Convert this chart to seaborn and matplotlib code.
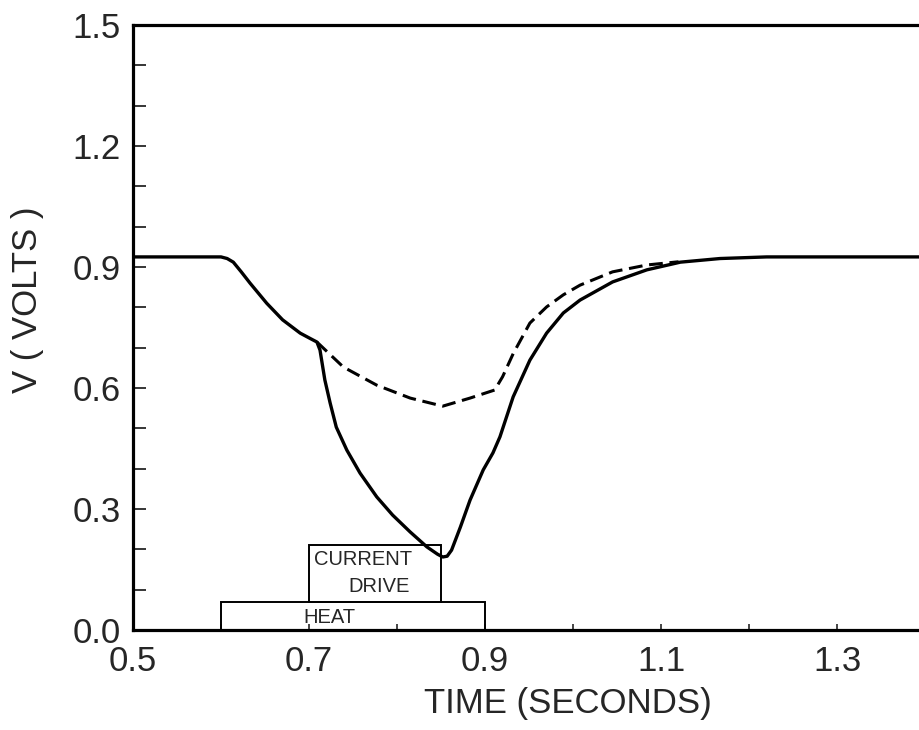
import numpy as np
import pandas as pd
import matplotlib
matplotlib.use("Agg")
import matplotlib.pyplot as plt
import seaborn as sns
from matplotlib.patches import Rectangle
from matplotlib.ticker import MultipleLocator

# ---- data ----
solid_t = [0.50, 0.60, 0.607, 0.614, 0.623, 0.633, 0.652, 0.670, 0.690, 0.702,
           0.709, 0.7125, 0.718, 0.724, 0.731, 0.743, 0.758, 0.777, 0.795,
           0.815, 0.834, 0.846, 0.852, 0.857, 0.862, 0.872, 0.883, 0.898,
           0.909, 0.917, 0.932, 0.951, 0.970, 0.989, 1.008, 1.045, 1.084,
           1.122, 1.167, 1.22, 1.50]
solid_v = [0.925, 0.925, 0.921, 0.912, 0.888, 0.860, 0.810, 0.769, 0.736, 0.722,
           0.714, 0.694, 0.620, 0.563, 0.503, 0.446, 0.389, 0.330, 0.285,
           0.243, 0.206, 0.188, 0.181, 0.183, 0.198, 0.255, 0.322, 0.397,
           0.439, 0.479, 0.578, 0.669, 0.736, 0.786, 0.818, 0.863, 0.893,
           0.912, 0.921, 0.925, 0.925]

dash_t = [0.709, 0.739, 0.777, 0.815, 0.852, 0.883, 0.911, 0.920, 0.932, 0.951,
          0.970, 0.989, 1.008, 1.045, 1.084, 1.120]
dash_v = [0.714, 0.652, 0.607, 0.575, 0.555, 0.575, 0.595, 0.628, 0.685, 0.761,
          0.801, 0.831, 0.855, 0.888, 0.905, 0.913]

box_start = [0.60, 0.70]
box_end = [0.90, 0.85]
box_low = [0.0, 0.07]
box_high = [0.07, 0.21]

box_texts = ["HEAT", "CURRENT", "DRIVE"]
text_x = [0.723, 0.762, 0.780]
text_y = [0.032, 0.176, 0.107]

x_ticks_major = [0.5, 0.7, 0.9, 1.1, 1.3]
y_ticks_major = [0.0, 0.3, 0.6, 0.9, 1.2, 1.5]

# ---- plot ----
sns.set_theme(style="ticks")
plt.rcParams["font.family"] = ["Liberation Sans", "DejaVu Sans"]

fig = plt.figure(figsize=(9.2, 7.3), dpi=100)
ax = fig.add_axes([133 / 920, 100 / 730, 880 / 920, 605 / 730])

df_s = pd.DataFrame({"t": solid_t, "v": solid_v})
df_d = pd.DataFrame({"t": dash_t, "v": dash_v})
sns.lineplot(data=df_s, x="t", y="v", ax=ax, color="black", lw=2.4,
             estimator=None, sort=False)
sns.lineplot(data=df_d, x="t", y="v", ax=ax, color="black", lw=2.2,
             estimator=None, sort=False)
ax.lines[-1].set_dashes((4.5, 2.2))
for ln in ax.lines:
    ln.set_solid_joinstyle("round")
    ln.set_dash_joinstyle("round")

for a, b, lo, hi in zip(box_start, box_end, box_low, box_high):
    ax.add_patch(Rectangle((a, lo), b - a, hi - lo, fill=False, ec="black",
                           lw=1.4, zorder=1))
for lab, tx, ty in zip(box_texts, text_x, text_y):
    ax.text(tx, ty, lab, ha="center", va="center", fontsize=14.5)

ax.set_xlim(0.5, 1.5)
ax.set_ylim(0.0, 1.5)
ax.set_xticks(x_ticks_major)
ax.set_xticklabels([f"{v:.1f}" for v in x_ticks_major])
ax.set_yticks(y_ticks_major)
ax.set_yticklabels([f"{v:.1f}" for v in y_ticks_major])
ax.xaxis.set_minor_locator(MultipleLocator(0.1))
ax.yaxis.set_minor_locator(MultipleLocator(0.1))
ax.tick_params(axis="y", which="both", direction="in", length=9, width=1.3,
               labelsize=25, pad=9, right=False)
ax.tick_params(axis="x", which="both", direction="in", length=4, width=1.2,
               labelsize=25, pad=11, top=False)
for s in ax.spines.values():
    s.set_linewidth(2.3)
    s.set_color("black")
ax.set_xlabel("")
ax.set_ylabel("")

fig.text(568 / 920, 1 - 703 / 730, "TIME (SECONDS)", ha="center", va="center",
         fontsize=25)
fig.text(28 / 920, 1 - 300 / 730, "V ( VOLTS )", ha="center", va="center",
         fontsize=25, rotation=90)

fig.savefig("out.png", dpi=100)
